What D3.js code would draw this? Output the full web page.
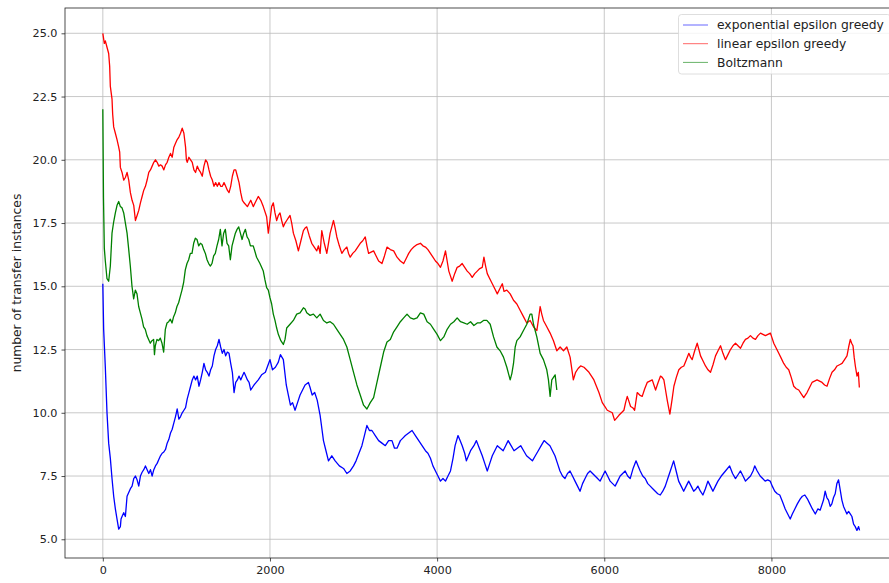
<!DOCTYPE html>
<html>
<head>
<meta charset="utf-8">
<script src="https://cdn.jsdelivr.net/npm/d3@7"></script>
<style>
  html, body { margin: 0; padding: 0; background: #fff; }
  svg { display: block; font-family: "DejaVu Sans", sans-serif; }
</style>
</head>
<body>
<svg id="chart" width="889" height="583"></svg>
<script>
// values: [step, number of transfer instances]
const expGreedy = [
  [0,15.1],[10,13.3],[30,11.8],[50,10.0],[70,8.8],[90,8.2],[110,7.4],[130,6.7],[150,6.2],[170,5.8],[190,5.4],[210,5.5],[218,5.8],[230,5.9],[250,6.05],[270,5.9],[290,6.7],[310,6.85],[330,7.0],[350,7.1],[370,7.4],[390,7.5],[410,7.35],[430,7.1],[450,7.5],[470,7.65],[490,7.75],[510,7.9],[530,7.75],[550,7.6],[570,7.75],[590,7.5],[610,7.75],[630,7.9],[650,8.0],[670,8.15],[690,8.3],[710,8.4],[730,8.45],[750,8.55],[770,8.8],[790,8.95],[810,9.2],[830,9.35],[850,9.6],[870,9.85],[890,10.15],[910,9.75],[930,9.85],[950,10.0],[970,10.1],[990,10.2],
  [1010,10.55],[1030,10.8],[1050,11.05],[1070,11.3],[1090,11.45],[1110,11.3],[1130,11.45],[1150,11.05],[1170,11.3],[1190,11.6],[1210,11.95],[1230,11.7],[1250,11.6],[1270,11.45],[1290,11.7],[1310,11.85],[1330,12.25],[1350,12.5],[1370,12.65],[1390,12.9],[1410,12.6],[1430,12.35],[1450,12.5],[1470,12.25],[1490,12.4],[1510,12.35],[1530,11.95],[1550,11.6],[1570,10.8],[1590,11.2],[1610,11.3],[1630,11.45],[1650,11.3],[1670,11.45],[1690,11.6],[1710,11.45],[1730,11.3],[1750,11.2],[1770,10.9],
  [1810,11.1],[1860,11.3],[1900,11.5],[1945,11.6],[2000,12.1],[2030,11.7],[2065,11.8],[2100,12.0],[2125,12.3],[2160,12.1],[2195,11.1],[2220,10.7],[2245,10.3],[2270,10.4],[2300,10.1],[2330,10.4],[2360,10.7],[2390,10.9],[2420,11.1],[2460,11.2],[2480,11.0],[2505,10.7],[2535,10.8],[2565,10.5],[2600,9.9],[2620,9.4],[2640,8.9],[2670,8.5],[2700,8.1],[2740,8.3],[2780,8.1],[2830,7.9],[2880,7.8],[2920,7.6],[2960,7.7],
  [3000,7.9],[3030,8.1],[3065,8.4],[3100,8.7],[3130,9.1],[3160,9.5],[3190,9.3],[3220,9.3],[3260,9.1],[3300,8.9],[3340,8.8],[3380,8.7],[3420,8.9],[3460,8.9],[3490,8.6],[3520,8.6],[3560,8.9],[3590,9.0],[3620,9.1],[3660,9.2],[3700,9.3],[3740,9.1],[3780,8.9],[3820,8.7],[3860,8.5],[3890,8.4],[3920,8.2],[3950,7.9],[3980,7.7],
  [4010,7.5],[4040,7.3],[4070,7.4],[4100,7.3],[4130,7.5],[4160,7.7],[4190,8.2],[4215,8.7],[4250,9.1],[4275,8.9],[4300,8.7],[4330,8.4],[4350,8.1],[4375,8.3],[4400,8.5],[4440,8.7],[4470,8.9],[4505,8.6],[4540,8.3],[4570,8.0],[4600,7.7],[4630,8.0],[4660,8.3],[4690,8.5],[4720,8.7],[4755,8.6],[4790,8.5],[4820,8.7],[4850,8.9],[4885,8.7],[4920,8.5],[4960,8.6],
  [5000,8.7],[5035,8.5],[5070,8.3],[5105,8.2],[5140,8.1],[5175,8.3],[5210,8.5],[5245,8.7],[5280,8.9],[5315,8.8],[5350,8.7],[5380,8.5],[5410,8.3],[5440,8.0],[5470,7.7],[5500,7.5],[5530,7.4],[5560,7.6],[5590,7.7],[5620,7.5],[5650,7.3],[5680,7.1],[5710,6.9],[5740,7.2],[5770,7.4],[5800,7.6],[5830,7.7],[5860,7.6],[5890,7.5],[5920,7.4],[5950,7.3],[5980,7.5],
  [6010,7.7],[6040,7.5],[6070,7.3],[6100,7.2],[6130,7.1],[6160,7.3],[6190,7.5],[6220,7.6],[6250,7.7],[6280,7.5],[6310,7.4],[6345,7.8],[6380,8.1],[6405,7.9],[6430,7.7],[6460,7.5],[6490,7.4],[6520,7.2],[6550,7.1],[6580,7.0],[6610,6.9],[6640,6.8],[6670,6.75],[6700,6.9],[6730,7.1],[6760,7.4],[6790,7.7],[6830,8.1],[6860,7.7],[6890,7.3],[6920,7.1],[6950,6.9],[6980,7.1],
  [7010,7.3],[7040,7.1],[7070,6.9],[7100,7.0],[7120,7.1],[7150,6.9],[7180,6.75],[7210,7.0],[7240,7.3],[7270,7.1],[7300,6.9],[7330,7.1],[7360,7.3],[7400,7.5],[7450,7.7],[7500,7.9],[7535,7.6],[7570,7.4],[7600,7.55],[7630,7.7],[7660,7.5],[7690,7.3],[7720,7.4],[7750,7.5],[7780,7.7],[7800,7.9],[7830,7.7],[7865,7.5],[7895,7.4],[7925,7.3],[7955,7.35],[7985,7.3],
  [8010,7.1],[8040,6.9],[8070,6.8],[8100,6.75],[8130,6.5],[8165,6.2],[8195,6.0],[8225,5.8],[8250,6.0],[8280,6.2],[8310,6.4],[8345,6.6],[8370,6.7],[8400,6.75],[8430,6.6],[8460,6.4],[8490,6.2],[8525,6.0],[8555,6.2],[8583,6.15],[8623,6.55],[8643,6.9],[8663,6.65],[8683,6.55],[8703,6.3],[8723,6.4],[8743,6.65],[8763,6.8],[8783,7.2],[8803,7.35],[8823,6.95],[8843,6.55],[8863,6.3],[8883,6.15],[8903,6.0],[8923,6.1],[8943,6.0],[8963,5.9],[8983,5.6],[9003,5.5],[9023,5.35],[9043,5.5],[9055,5.35]
];

const linGreedy = [
  [0,25.0],[18,24.6],[30,24.7],[50,24.45],[70,24.2],[82,23.7],[90,22.9],[110,22.4],[118,21.8],[130,21.3],[150,21.05],[170,20.8],[190,20.5],[202,20.3],[210,19.7],[230,19.5],[250,19.2],[270,19.3],[290,19.5],[310,19.2],[330,18.7],[350,18.4],[370,18.2],[390,17.6],[410,17.8],[430,18.0],[450,18.3],[470,18.55],[490,18.8],[510,18.95],[530,19.2],[550,19.5],[570,19.6],[590,19.75],[610,19.9],[630,20.0],[650,19.9],[670,19.75],[690,19.8],[710,19.75],[730,19.6],[750,19.8],[770,19.9],[790,20.1],[810,20.25],[830,20.1],[850,20.5],[870,20.65],[890,20.8],[910,20.9],[930,21.05],[950,21.25],[970,21.05],[990,20.5],
  [1000,20.0],[1010,19.9],[1030,20.1],[1050,20.0],[1070,19.9],[1090,19.6],[1110,19.5],[1130,19.75],[1150,19.6],[1170,19.5],[1190,19.35],[1210,19.75],[1230,20.0],[1250,19.9],[1270,19.6],[1290,19.35],[1310,19.2],[1330,18.95],[1350,19.1],[1370,18.95],[1390,19.1],[1410,18.95],[1430,18.95],[1450,19.1],[1470,18.95],[1490,18.8],[1510,18.7],[1530,18.95],[1550,19.35],[1570,19.6],[1590,19.6],[1610,19.35],[1630,19.1],[1650,18.7],[1670,18.4],[1690,18.3],[1730,18.15],[1770,18.4],
  [1800,18.15],[1830,18.35],[1860,18.55],[1890,18.4],[1920,18.15],[1960,17.75],[1980,17.1],[2000,17.6],[2020,18.15],[2040,18.3],[2060,17.9],[2080,17.6],[2100,17.8],[2120,17.9],[2140,17.6],[2160,17.35],[2180,17.5],[2200,17.6],[2220,17.7],[2240,17.8],[2260,17.5],[2280,17.1],[2310,16.8],[2340,16.4],[2370,16.8],[2400,17.2],[2420,17.3],[2440,17.35],[2470,17.0],[2500,16.7],[2530,16.55],[2560,16.4],[2580,16.6],[2600,16.3],[2620,17.2],[2650,16.7],[2680,16.3],[2700,16.7],[2720,17.1],[2740,17.35],[2760,17.6],[2780,17.3],[2800,16.95],[2830,16.6],[2860,16.3],[2890,16.45],[2920,16.55],[2940,16.3],[2960,16.15],[2990,16.3],
  [3020,16.4],[3050,16.55],[3080,16.7],[3110,16.8],[3140,16.95],[3160,16.6],[3180,16.3],[3210,16.35],[3240,16.4],[3270,16.2],[3300,16.0],[3340,15.9],[3370,16.2],[3400,16.55],[3440,16.45],[3480,16.4],[3520,16.15],[3560,16.0],[3600,15.9],[3630,16.1],[3660,16.3],[3690,16.45],[3720,16.55],[3760,16.65],[3800,16.7],[3830,16.6],[3860,16.55],[3890,16.45],[3920,16.3],[3950,16.15],[3980,16.0],
  [4010,15.9],[4040,15.75],[4070,16.0],[4100,16.4],[4120,16.0],[4140,15.6],[4160,15.4],[4180,15.2],[4210,15.5],[4240,15.75],[4270,15.8],[4300,15.9],[4330,15.75],[4360,15.6],[4390,15.5],[4420,15.35],[4450,15.5],[4480,15.6],[4510,15.7],[4540,15.75],[4560,16.15],[4580,15.8],[4600,15.5],[4630,15.3],[4660,15.1],[4690,14.9],[4720,14.7],[4750,14.9],[4780,15.1],[4800,14.8],[4834,14.85],[4874,14.7],[4914,14.45],[4954,14.3],[4993,14.05],
  [5033,13.8],[5073,13.55],[5113,13.65],[5153,13.4],[5193,13.25],[5213,13.7],[5233,14.2],[5252,13.9],[5272,13.65],[5312,13.4],[5352,13.15],[5392,12.85],[5432,12.45],[5472,12.6],[5512,12.45],[5552,12.6],[5591,12.2],[5630,11.3],[5657,11.6],[5687,11.75],[5717,11.85],[5757,11.8],[5787,11.7],[5817,11.6],[5847,11.45],[5876,11.3],[5906,11.05],[5936,10.8],[5976,10.4],
  [6006,10.25],[6036,10.1],[6066,10.05],[6096,10.0],[6124,9.7],[6150,9.8],[6175,9.9],[6205,10.0],[6235,10.1],[6255,10.4],[6275,10.65],[6295,10.45],[6315,10.25],[6340,10.2],[6363,10.1],[6394,10.8],[6424,10.7],[6454,10.65],[6484,10.95],[6514,11.2],[6544,11.25],[6574,11.3],[6594,11.1],[6614,10.9],[6644,11.2],[6673,11.45],[6693,11.4],[6713,11.3],[6733,10.9],[6753,10.5],[6770,10.2],[6785,9.95],[6810,10.5],[6833,11.05],[6862,11.4],[6892,11.7],[6922,11.8],[6952,11.85],[6982,12.1],
  [7012,12.35],[7032,12.2],[7052,12.1],[7082,12.45],[7112,12.75],[7132,12.5],[7152,12.25],[7182,12.05],[7211,11.85],[7241,11.7],[7271,11.6],[7301,11.9],[7331,12.25],[7361,12.45],[7391,12.65],[7420,12.35],[7450,12.1],[7480,12.3],[7510,12.5],[7540,12.65],[7570,12.75],[7600,12.65],[7630,12.55],[7660,12.75],[7689,12.9],[7719,12.95],[7749,13.05],[7779,12.95],[7809,12.9],[7839,13.05],[7869,13.15],[7898,13.1],[7928,13.05],[7958,13.1],[7988,13.15],
  [8008,12.95],[8028,12.75],[8058,12.55],[8088,12.35],[8118,12.15],[8147,11.95],[8177,11.8],[8207,11.7],[8237,11.4],[8267,11.05],[8297,10.95],[8327,10.9],[8357,10.75],[8387,10.6],[8406,10.7],[8426,10.8],[8456,11.0],[8486,11.2],[8516,11.25],[8546,11.3],[8576,11.25],[8606,11.2],[8636,11.1],[8665,11.05],[8695,11.35],[8725,11.6],[8755,11.7],[8785,11.85],[8815,11.9],[8845,11.95],[8875,12.1],[8904,12.25],[8924,12.6],[8944,12.9],[8960,12.75],[8976,12.65],[8990,12.2],[9004,11.85],[9024,11.45],[9040,11.6],[9052,11.0]
];

const boltzmann = [
  [0,22.0],[8,18.5],[18,16.5],[30,16.0],[50,15.3],[70,15.2],[90,15.8],[110,17.1],[130,17.55],[150,17.9],[170,18.2],[190,18.35],[210,18.15],[230,18.1],[250,17.9],[270,17.5],[290,17.1],[310,16.45],[329,15.8],[349,15.0],[369,14.5],[389,14.85],[409,14.7],[429,14.2],[449,13.95],[469,13.7],[488,13.4],[508,13.3],[528,13.05],[548,12.9],[568,12.75],[588,12.85],[608,12.9],[618,12.3],[628,12.65],[648,12.9],[668,12.85],[688,12.95],[708,12.75],[728,12.4],[748,13.3],[768,13.55],[788,13.6],[808,13.7],[828,13.55],[847,13.8],[867,13.95],[887,14.2],[907,14.35],[927,14.6],[947,14.85],[967,15.15],[987,15.65],
  [1007,15.9],[1027,16.05],[1047,16.3],[1067,16.3],[1087,16.7],[1107,16.9],[1127,16.85],[1147,16.6],[1167,16.7],[1187,16.65],[1207,16.45],[1227,16.3],[1247,16.05],[1267,15.9],[1287,15.8],[1306,15.9],[1326,16.2],[1346,16.3],[1366,16.6],[1386,16.85],[1406,17.25],[1426,16.6],[1446,17.1],[1466,17.25],[1486,16.7],[1506,16.6],[1526,16.05],[1546,16.6],[1566,16.85],[1586,17.1],[1606,17.25],[1626,17.35],[1646,17.1],[1666,16.85],[1686,17.1],[1706,17.25],[1726,16.95],[1746,16.85],[1766,16.6],
  [1800,16.6],[1840,16.15],[1880,15.9],[1920,15.6],[1940,15.25],[1960,14.95],[1980,14.85],[2000,14.55],[2020,14.3],[2040,13.9],[2060,13.65],[2080,13.35],[2100,13.1],[2130,12.85],[2160,12.7],[2180,12.9],[2200,13.35],[2240,13.5],[2280,13.65],[2320,13.9],[2360,13.95],[2400,14.15],[2420,14.1],[2440,13.95],[2480,13.85],[2520,13.9],[2560,13.75],[2600,13.9],[2640,13.65],[2680,13.55],[2720,13.6],[2760,13.5],[2800,13.3],[2840,13.1],[2880,12.9],[2920,12.6],[2960,12.1],
  [3000,11.6],[3040,11.1],[3080,10.7],[3120,10.3],[3160,10.15],[3200,10.4],[3240,10.6],[3280,11.2],[3320,11.8],[3360,12.4],[3400,12.8],[3440,12.9],[3480,13.2],[3520,13.4],[3560,13.6],[3600,13.75],[3640,13.9],[3680,13.75],[3720,13.7],[3760,13.75],[3800,13.95],[3840,13.9],[3880,13.6],[3920,13.5],[3960,13.3],
  [4000,13.1],[4040,12.85],[4080,13.0],[4120,13.3],[4160,13.5],[4200,13.6],[4240,13.75],[4280,13.6],[4320,13.55],[4360,13.5],[4400,13.6],[4440,13.45],[4480,13.55],[4515,13.55],[4555,13.65],[4595,13.65],[4635,13.5],[4675,13.0],[4715,12.6],[4754,12.45],[4794,12.2],[4834,11.8],[4854,11.55],[4874,11.3],[4894,11.55],[4914,11.95],[4934,12.6],[4954,12.85],[4993,13.0],
  [5033,13.25],[5073,13.5],[5113,13.9],[5133,13.9],[5153,13.5],[5193,13.0],[5233,12.35],[5272,12.1],[5312,11.7],[5332,11.3],[5352,10.65],[5372,11.3],[5392,11.4],[5412,11.5],[5432,10.9]
];

const seriesNames = ['exponential epsilon greedy', 'linear epsilon greedy', 'Boltzmann'];
const seriesColors = ['#0000ff', '#ff0000', '#008000'];
const xTicks = [0, 2000, 4000, 6000, 8000];
const yTicks = [5, 7.5, 10, 12.5, 15, 17.5, 20, 22.5, 25];

const svg = d3.select('#chart');
const plot = { left: 65, top: 8, right: 897, bottom: 558 };

const x = d3.scaleLinear().domain([-452.5, 9502.5]).range([plot.left, plot.right]);
const y = d3.scaleLinear().domain([4.26, 26.0]).range([plot.bottom, plot.top]);

svg.append('defs').append('clipPath').attr('id', 'clip')
  .append('rect')
  .attr('x', plot.left).attr('y', plot.top)
  .attr('width', plot.right - plot.left).attr('height', plot.bottom - plot.top);

// grid
const grid = svg.append('g').attr('stroke', '#b0b0b0').attr('stroke-width', 0.8).attr('opacity', 0.85);
grid.selectAll('.gx').data(xTicks).join('line')
  .attr('x1', (d) => x(d)).attr('x2', (d) => x(d))
  .attr('y1', plot.top).attr('y2', plot.bottom);
grid.selectAll('.gy').data(yTicks).join('line')
  .attr('x1', plot.left).attr('x2', plot.right)
  .attr('y1', (d) => y(d)).attr('y2', (d) => y(d));

// lines
const line = d3.line().x((d) => x(d[0])).y((d) => y(d[1]));
const lines = svg.append('g').attr('clip-path', 'url(#clip)');
[expGreedy, linGreedy, boltzmann].forEach((s, i) => {
  lines.append('path')
    .datum(s)
    .attr('fill', 'none')
    .attr('stroke', seriesColors[i])
    .attr('stroke-width', 1.3)
    .attr('stroke-linejoin', 'round')
    .attr('d', line);
});

// axes
const xAxis = svg.append('g')
  .attr('transform', `translate(0,${plot.bottom})`)
  .call(d3.axisBottom(x).tickValues(xTicks).tickSize(3.5).tickPadding(5).tickFormat(d3.format('d')));
const yAxis = svg.append('g')
  .attr('transform', `translate(${plot.left},0)`)
  .call(d3.axisLeft(y).tickValues(yTicks).tickSize(3.5).tickPadding(4).tickFormat(d3.format('.1f')));
[xAxis, yAxis].forEach((a) => {
  a.select('.domain').remove();
  a.selectAll('.tick line').attr('stroke', '#222').attr('stroke-width', 0.8);
  a.selectAll('.tick text')
    .attr('fill', '#222')
    .style('font-family', '"DejaVu Sans", sans-serif')
    .style('font-size', '11.2px');
});

// spines
svg.append('rect')
  .attr('x', plot.left).attr('y', plot.top)
  .attr('width', plot.right - plot.left).attr('height', plot.bottom - plot.top)
  .attr('fill', 'none').attr('stroke', '#222').attr('stroke-width', 0.8);

// y label
svg.append('text')
  .attr('transform', `translate(17,${(plot.top + plot.bottom) / 2}) rotate(-90)`)
  .attr('text-anchor', 'middle')
  .attr('dy', '0.35em')
  .attr('fill', '#222')
  .style('font-size', '12.3px')
  .text('number of transfer instances');

// legend
const legend = svg.append('g');
legend.append('rect')
  .attr('x', 678.5).attr('y', 14.5).attr('width', 212).attr('height', 59.5).attr('rx', 3)
  .attr('fill', '#fff').attr('fill-opacity', 0.8)
  .attr('stroke', '#d6d6d6').attr('stroke-width', 0.8);
const rows = legend.selectAll('.row').data(seriesNames).join('g')
  .attr('transform', (d, i) => `translate(683,${25 + i * 18.7})`);
rows.append('line')
  .attr('x1', 0).attr('x2', 25)
  .attr('stroke', (d, i) => seriesColors[i]).attr('stroke-width', 0.6);
rows.append('text')
  .attr('x', 34).attr('dy', '0.36em')
  .attr('fill', '#222')
  .style('font-size', '12.3px')
  .text((d) => d);
</script>
</body>
</html>
